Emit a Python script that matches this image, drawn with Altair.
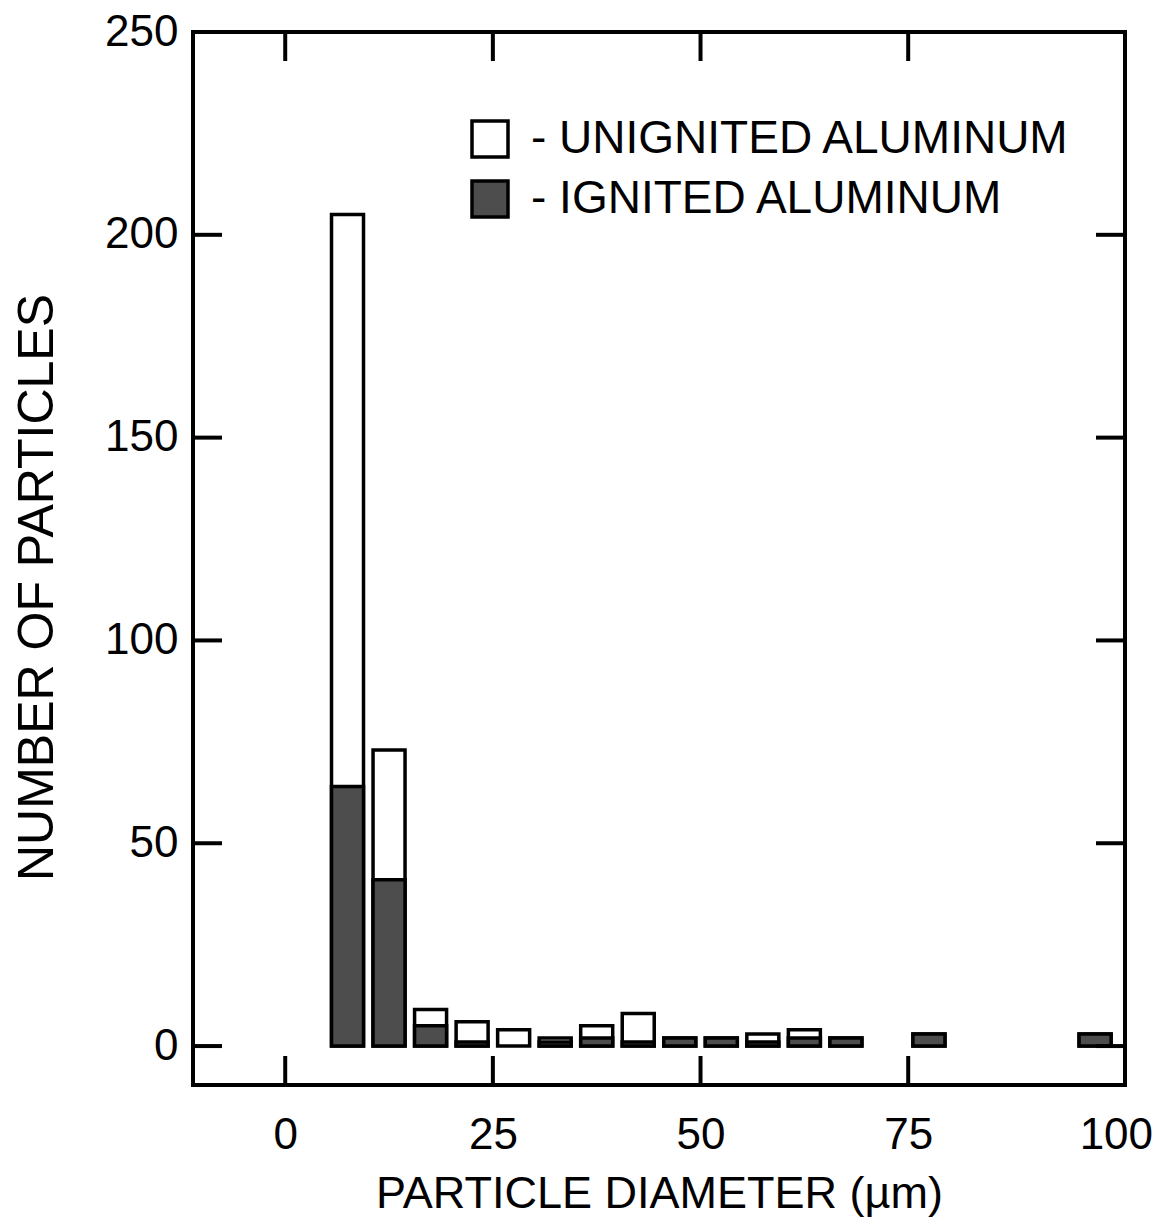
import altair as alt
import pandas as pd

# Particle size bins (bin centres, micrometres) and counts per bin
diameter = [7.5, 12.5, 17.5, 22.5, 27.5, 32.5, 37.5, 42.5, 47.5, 52.5, 57.5, 62.5, 67.5, 77.5, 97.5]
total_count = [205, 73, 9, 6, 4, 2, 5, 8, 2, 2, 3, 4, 2, 3, 3]
ignited_count = [64, 41, 5, 1, 0, 1, 2, 1, 2, 2, 1, 2, 2, 3, 3]

x_ticks = [0, 25, 50, 75, 100]
y_ticks = [0, 50, 100, 150, 200, 250]
frame_x_ticks = [0, 25, 50, 75]
frame_y_ticks = [0, 50, 100, 150, 200]

UNIGNITED = "- UNIGNITED ALUMINUM"
IGNITED = "- IGNITED ALUMINUM"

rows = []
for d, t, g in zip(diameter, total_count, ignited_count):
    rows.append({"d": d, "count": t, "kind": UNIGNITED})
    if g > 0:
        rows.append({"d": d, "count": g, "kind": IGNITED})
bars_df = pd.DataFrame(rows)

W, H = 932, 1053
FONT = "Liberation Sans"
TICK_LEN = 29

x_scale = alt.Scale(domain=[-10.5, 100.5], nice=False, zero=False)
y_scale = alt.Scale(domain=[-9.6, 250], nice=False, zero=False)

fill = alt.Color(
    "kind:N",
    scale=alt.Scale(domain=[UNIGNITED, IGNITED], range=["#ffffff", "#4d4d4d"]),
    legend=alt.Legend(
        title=None,
        orient="none",
        legendX=274,
        legendY=84,
        symbolType="square",
        symbolSize=1296,
        symbolStrokeColor="black",
        symbolStrokeWidth=3.5,
        symbolFillColor="white",
        labelFont=FONT,
        labelFontSize=46,
        labelColor="black",
        labelLimit=1000,
        labelOffset=18,
        rowPadding=10,
        padding=0,
    ),
)

bars = (
    alt.Chart(bars_df)
    .mark_bar(size=32, stroke="black", strokeWidth=3.5, opacity=1)
    .encode(
        x=alt.X(
            "d:Q",
            scale=x_scale,
            axis=alt.Axis(
                values=x_ticks,
                title="PARTICLE DIAMETER (µm)",
                ticks=False,
                domain=False,
                grid=False,
                labelFont=FONT,
                labelFontSize=44,
                labelColor="black",
                labelPadding=28,
                titleFont=FONT,
                titleFontSize=45,
                titleFontWeight="normal",
                titleColor="black",
                titlePadding=14,
            ),
        ),
        y=alt.Y(
            "count:Q",
            scale=y_scale,
            axis=alt.Axis(
                values=y_ticks,
                title="NUMBER OF PARTICLES",
                ticks=False,
                domain=False,
                grid=False,
                labelFont=FONT,
                labelFontSize=44,
                labelColor="black",
                labelPadding=15,
                titleFont=FONT,
                titleFontSize=50,
                titleFontWeight="normal",
                titleColor="black",
                titlePadding=42,
                titleY=555,
            ),
        ),
        y2=alt.datum(0),
        fill=fill,
        order=alt.Order("order:Q"),
    )
    .transform_calculate(order=f"datum.kind == '{UNIGNITED}' ? 0 : 1")
)

xt = pd.DataFrame({"v": frame_x_ticks})
yt = pd.DataFrame({"v": frame_y_ticks})

tick_style = dict(color="black", strokeWidth=4)
bottom_ticks = alt.Chart(xt).mark_rule(**tick_style).encode(
    x=alt.X("v:Q", scale=x_scale), y=alt.value(H - TICK_LEN), y2=alt.value(H)
)
top_ticks = alt.Chart(xt).mark_rule(**tick_style).encode(
    x=alt.X("v:Q", scale=x_scale), y=alt.value(0), y2=alt.value(TICK_LEN)
)
left_ticks = alt.Chart(yt).mark_rule(**tick_style).encode(
    y=alt.Y("v:Q", scale=y_scale), x=alt.value(0), x2=alt.value(TICK_LEN)
)
right_ticks = alt.Chart(yt).mark_rule(**tick_style).encode(
    y=alt.Y("v:Q", scale=y_scale), x=alt.value(W - TICK_LEN), x2=alt.value(W)
)

chart = (
    alt.layer(bars, bottom_ticks, top_ticks, left_ticks, right_ticks)
    .properties(
        width=W,
        height=H,
        autosize=alt.AutoSizeParams(type="none"),
        padding={"left": 193, "top": 32, "right": 41, "bottom": 132},
        background="white",
    )
    .configure_view(stroke="black", strokeWidth=4)
)

chart.save("out.html", embed_options={"renderer": "svg", "actions": False})
